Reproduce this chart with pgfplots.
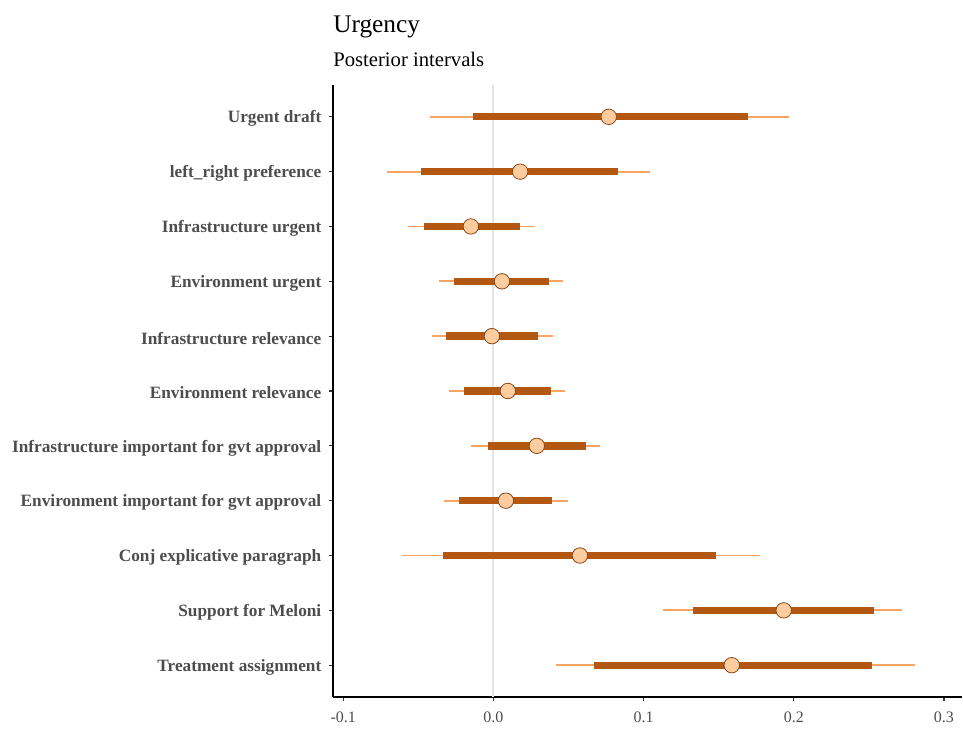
\documentclass[border=0pt]{standalone}
\usepackage{pgfplots}
\pgfplotsset{compat=1.18}
\usepackage{pgfplotstable}
\usepackage{fontspec}
\setmainfont{Liberation Serif}
\definecolor{thincol}{RGB}{251,163,98}
\definecolor{thickcol}{RGB}{178,88,18}
\definecolor{ptfill}{RGB}{253,205,160}
\definecolor{ptdraw}{RGB}{140,70,20}
\definecolor{labgray}{RGB}{77,77,77}
\definecolor{zerogray}{RGB}{229,229,229}
\pgfplotstableread{
y ll l m h hh
11 -0.0422 -0.0136 0.0768 0.1693 0.1966
10 -0.0707 -0.0482 0.0178 0.0830 0.1043
9 -0.0569 -0.0462 -0.0150 0.0176 0.0276
8 -0.0363 -0.0263 0.0057 0.0369 0.0462
7 -0.0409 -0.0316 -0.0010 0.0296 0.0396
6 -0.0296 -0.0196 0.0096 0.0383 0.0476
5 -0.0150 -0.0037 0.0289 0.0615 0.0709
4 -0.0329 -0.0230 0.0083 0.0389 0.0496
3 -0.0609 -0.0336 0.0576 0.1480 0.1773
2 0.1130 0.1327 0.1933 0.2536 0.2723
1 0.0414 0.0673 0.1587 0.2520 0.2809
}\datatab
\begin{document}
\begin{tikzpicture}
\useasboundingbox (-249.75pt,-25.5pt) rectangle (472.5pt,522.75pt);
\begin{axis}[
  at={(0pt,0pt)}, anchor=south west, scale only axis,
  width=471.75pt, height=459pt,
  xmin=-0.1068, xmax=0.312, ymin=0.42, ymax=11.58,
  axis lines=left,
  axis line style={-, line width=0.8pt, black},
  xtick={-0.1,0,0.1,0.2,0.3},
  xticklabels={-0.1,0.0,0.1,0.2,0.3},
  ytick={1,2,3,4,5,6,7,8,9,10,11},
  yticklabels={Treatment assignment, Support for Meloni, Conj explicative paragraph, Environment important for gvt approval, Infrastructure important for gvt approval, Environment relevance, Infrastructure relevance, Environment urgent, Infrastructure urgent, left\_right preference, Urgent draft},
  tick align=outside,
  major tick length=3pt,
  tick style={line width=0.8pt, black!80},
  xticklabel style={font=\fontsize{12}{12}\selectfont, text=labgray, anchor=base, yshift=-16pt},
  yticklabel style={font=\fontsize{12.95}{12.95}\selectfont\bfseries, text=labgray, anchor=east, xshift=-2.25pt, yshift=-1.5pt},
  clip=false,
]
\addplot[zerogray, line width=1.5pt] coordinates {(0,0.42) (0,11.58)};
\addplot[draw=none, mark=none, error bars/.cd, x dir=both, x explicit, error mark=none,
  error bar style={line width=1.4pt, thincol}]
  table[x=m, y=y, x error plus expr=\thisrow{hh}-\thisrow{m}, x error minus expr=\thisrow{m}-\thisrow{ll}] \datatab;
\addplot[draw=none, mark=none, error bars/.cd, x dir=both, x explicit, error mark=none,
  error bar style={line width=5.5pt, thickcol}]
  table[x=m, y=y, x error plus expr=\thisrow{h}-\thisrow{m}, x error minus expr=\thisrow{m}-\thisrow{l}] \datatab;
\addplot[only marks, mark=*, mark size=5.8pt, mark options={fill=ptfill, draw=ptdraw, line width=0.6pt}]
  table[x=m, y=y] \datatab;
\end{axis}
\node[anchor=base west, inner sep=0pt] at (0pt,498.2pt) {\fontsize{19}{19}\selectfont Urgency};
\node[anchor=base west, inner sep=0pt] at (0pt,472.7pt) {\fontsize{15.5}{15.5}\selectfont Posterior intervals};
\end{tikzpicture}
\end{document}
